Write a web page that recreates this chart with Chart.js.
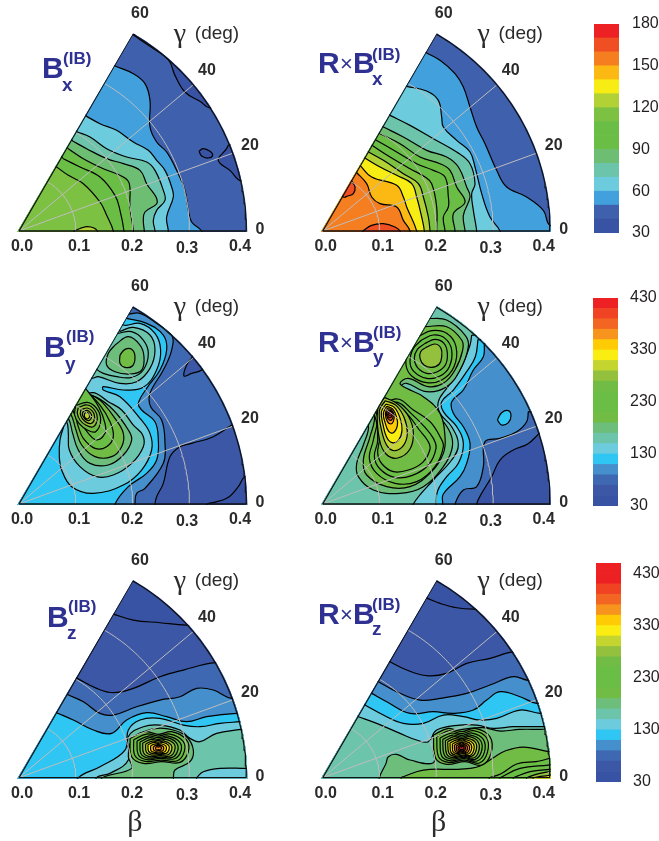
<!DOCTYPE html>
<html><head><meta charset="utf-8">
<script src="https://cdn.jsdelivr.net/npm/chart.js@4/dist/chart.umd.js"></script>
<style>html,body{margin:0;padding:0;background:#fff;width:659px;height:841px;overflow:hidden}canvas{position:absolute;display:block}</style>
</head><body>
<script>
// ---- axis ticks ----
const betaTicks = [0.0, 0.1, 0.2, 0.3, 0.4];
const gammaTicks = [0, 20, 40, 60];
const bxBarTicks = [30, 60, 90, 120, 150, 180];
const byBarTicks = [30, 130, 230, 330, 430];
const bzBarTicks = [30, 130, 230, 330, 430];
// ---- colour bands: lower edge of each band, and its colour ----
const bxLevels = [30,40,50,60,70,80,90,100,110,120,130,140,150,160,170,180];
const bxColors = ['#3953A4','#3F60AD','#42A0DC','#6CCBDC','#6CC4AA','#6DBE73','#6ABD45','#6ABD45','#7DC142','#B2D135','#F7EC13','#FDB913','#F57E20','#F04E23','#ED2024'];
const byLevels = [30,50,70,90,110,130,150,170,190,210,230,250,270,290,310,330,350,370,390,410,430];
const byColors = ['#3953A4','#3C57A6','#3E68B1','#4590CC','#2FC6F4','#6CCBDC','#6CC4AA','#6EBE7B','#70BC45','#6ABD45','#6ABD45','#70BC45','#94C13D','#C4D52F','#F9ED12','#FFCB05','#F7941D','#F36523','#F04323','#ED2024'];
const bzLevels = [30,50,70,90,110,130,150,170,190,210,230,250,270,290,310,330,350,370,390,410,430,450];
const bzColors = ['#3953A4','#3C57A6','#3E68B1','#4590CC','#2FC6F4','#6CCBDC','#6CC4AA','#6EBE7B','#70BC45','#6ABD45','#6ABD45','#70BC45','#94C13D','#C4D52F','#F9ED12','#FFCB05','#F7941D','#F36523','#F04323','#ED2024','#ED2024'];
// ---- iso-level contours: [level, closure, x,y pairs]
// x = beta cos(gamma), y = beta sin(gamma), in digitising units of 1/1705 beta.
const bxContours = [
 [40,'O',[-50,-30,740,-30,740,740,-50,740]],
 [30,'O',[343,588,393,554,448,514,468,467,498,417,543,389,578,370,720,450,450,650]],
 [30,'O',[628,257,623,247,598,212,633,182,668,150,720,180,690,280]],
 [30,'O',[540,240,553,247,573,239,581,227,568,219,548,225]],
 [50,'L',[288,495,343,472,378,442,393,392,393,312,413,267,443,237,473,182,498,122,508,62,518,27,548,0]],
 [60,'L',[203,344,243,322,293,302,343,267,388,242,413,212,438,182,458,132,463,102,443,42,448,0]],
 [70,'L',[175,297,213,282,263,247,323,222,383,207,408,182,433,122,438,92,413,62,403,32,408,0]],
 [80,'L',[161,270,203,247,263,217,313,202,363,182,383,142,415,87,378,57,373,32,376,0]],
 [90,'L',[148,247,193,217,253,187,313,162,331,142,333,72,343,0]],
 [100,'L',[133,217,183,192,243,162,288,107,303,62,315,0]],
 [110,'L',[113,192,148,167,193,142,243,87,263,47,283,0]],
 [120,'O',[165,0,190,10,205,13,225,9,235,0,235,-10,165,-10]],
];
const rbxContours = [
 [40,'O',[-50,-30,740,-30,740,740,-50,740]],
 [50,'L',[312,534,352,512,397,472,422,432,442,372,462,312,487,262,522,182,552,132,612,102,662,62,682,17]],
 [60,'L',[252,434,312,420,347,392,357,342,362,312,402,272,442,237,457,192,477,112,502,42,532,0]],
 [70,'L',[202,347,262,317,332,277,402,237,442,202,457,142,447,112,452,62,462,0]],
 [80,'L',[182,312,242,282,312,242,372,222,407,192,432,132,442,102,422,47,427,0]],
 [90,'L',[172,292,232,262,292,222,352,202,382,182,402,132,427,87,392,52,397,0]],
 [100,'L',[158,274,222,237,282,202,332,182,367,162,377,102,377,72,362,42,367,0]],
 [110,'L',[148,257,202,222,262,187,307,162,327,142,342,72,342,0]],
 [120,'L',[137,237,182,212,242,172,287,142,302,102,317,42,322,0]],
 [130,'L',[125,220,172,192,222,167,267,142,282,102,297,42,305,0]],
 [140,'L',[112,197,147,162,222,137,242,102,252,72,282,0]],
 [150,'L',[100,177,132,142,147,102,172,82,222,72,242,32,262,0]],
 [160,'O',[87,150,97,132,92,112,75,105,62,102,40,130,70,160]],
 [160,'O',[120,0,147,17,182,22,217,12,232,0,232,-15,120,-15]],
];
const byContours = [
 [50,'O',[-50,-30,740,-30,740,740,-50,740]],
 [30,'O',[563,0,623,17,658,52,678,82,720,82,720,-30,563,-30]],
 [70,'R',[638,237,583,202,518,182,483,172,453,142,433,62,413,22,408,0]],
 [50,'O',[518,437,503,417,495,384,518,392,548,402,620,470,540,480]],
 [90,'L',[330,570,363,572,413,542,458,507,458,462,433,402,393,332,395,292,428,252,438,182,433,122,378,47,353,32,348,0]],
 [110,'L',[323,557,383,542,433,507,443,462,423,402,383,347,358,302,368,282,408,247,418,192,413,132,383,92,328,52,288,0]],
 [130,'E',[134,232,123,192,121,142,128,102,158,52,223,32,313,57,368,102,398,162,393,212,363,257,303,322,253,342,253,352,313,342,373,350,413,402,425,462,408,512,363,542,313,537]],
 [150,'E',[303,518,343,530,393,507,408,462,393,407,353,367,303,362,238,382,218,378]],
 [150,'E',[296,512,338,517,373,492,388,452,373,402,338,380,293,382,253,392,233,404]],
 [170,'O',[288,477,328,502,363,477,375,442,368,402,333,390,288,397,263,417,268,452]],
 [190,'O',[303,447,318,464,338,464,348,442,340,414,318,410,303,422]],
 [150,'E',[183,322,223,334,268,307,308,282,343,237,371,207,373,172,338,122,283,87,233,82,183,112,151,162,148,212,143,247]],
 [170,'E',[190,330,233,320,283,282,328,222,338,192,313,147,268,117,213,122,178,162,161,212,148,257]],
 [190,'E',[195,337,230,320,253,302,288,257,313,212,308,172,278,142,228,142,188,177,171,222,155,270]],
 [210,'E',[198,343,243,297,273,247,283,202,263,172,228,167,193,197,178,232,163,277]],
 [230,'E',[205,340,239,292,258,242,258,212,233,192,208,212,188,242,171,287]],
 [250,'O',[170,295,205,305,233,287,245,252,230,217,205,222,180,242,167,267]],
 [270,'O',[178,289,205,297,227,282,235,257,223,232,200,237,183,252,175,272]],
 [270,'O',[186,283,205,288,221,278,227,260,218,242,202,245,190,256,184,270]],
 [270,'O',[192,277,205,281,215,273,218,262,212,251,202,252,195,259,190,268]],
 [290,'O',[197,272,205,275,211,268,211,260,205,255,199,258,196,265]],
];
const rbyContours = [
 [30,'O',[-50,-30,740,-30,740,740,-50,740]],
 [70,'R',[650,212,615,180,572,162,532,132,507,82,477,32,462,0]],
 [90,'R',[617,277,612,247,582,217,532,197,487,187,482,112,462,52,422,42,397,0]],
 [110,'R',[485,482,482,442,452,402,422,342,387,307,392,272,422,232,442,182,432,122,412,82,362,30,360,0]],
 [110,'O',[524,252,537,274,557,280,565,264,557,244,537,237]],
 [130,'R',[466,494,458,442,432,397,392,342,357,307,362,277,402,232,422,182,407,122,372,82,345,40,340,0]],
 [150,'R',[447,507,442,477,412,402,372,347,347,307,352,272,387,232,407,177,387,132,332,72,272,0]],
 [170,'E',[320,557,372,552,427,507,437,472,412,402,372,352,312,337,252,362,235,352,262,327,312,297,362,247,387,202,387,162,362,112,302,52,232,32,152,42,107,82,102,122,122,177,137,237]],
 [190,'E',[307,532,372,532,417,492,420,462,397,402,362,362,317,352,257,377,232,362,252,347,302,322,352,272,367,202,362,152,327,97,262,52,192,52,132,87,122,132,142,202,155,267]],
 [210,'O',[287,502,327,520,372,512,400,472,394,412,357,372,312,364,267,384,250,417,257,462]],
 [230,'O',[297,492,332,507,367,497,387,462,380,412,352,384,312,377,274,397,262,427,272,467]],
 [250,'O',[307,482,337,494,364,482,374,452,368,417,344,397,312,392,284,410,275,437,284,464]],
 [270,'O',[310,470,337,480,355,467,357,442,350,420,327,410,304,417,292,437,294,457]],
 [210,'E',[170,295,225,315,272,282,322,247,352,202,362,172,337,112,282,67,217,62,162,92,140,137,152,192,165,275]],
 [230,'E',[172,298,225,305,265,272,305,232,332,197,340,167,317,117,267,85,215,80,172,105,155,142,165,192,155,268]],
 [250,'E',[180,310,222,297,258,265,290,222,315,190,322,165,300,125,257,102,212,97,178,120,165,152,170,195,160,277]],
 [270,'O',[185,320,225,300,258,262,272,215,262,165,225,138,190,150,170,195,165,285]],
 [290,'O',[188,310,220,296,244,260,254,215,244,178,218,160,195,172,178,215,170,280]],
 [310,'O',[190,300,215,290,232,258,238,222,228,192,208,184,192,200,181,238,176,276]],
 [330,'O',[192,293,210,285,222,260,224,235,212,214,198,218,187,245,182,272]],
 [350,'O',[193,286,205,284,214,268,212,248,204,240,194,248,188,270]],
 [370,'O',[196,282,206,280,212,268,208,254,200,252,193,262,192,274]],
 [390,'O',[198,278,206,277,209,268,205,260,198,260,195,268]],
 [410,'O',[200,274,205,273,206,268,202,264,198,268]],
];
const bzContours = [
 [30,'O',[-50,-30,740,-30,740,740,-50,740]],
 [50,'L',[283,491,343,473,423,465,503,458]],
 [70,'L',[175,298,233,268,283,255,343,268,423,303,493,323,590,345]],
 [90,'L',[148,248,193,228,243,193,283,188,353,213,423,233,483,243,533,268,583,263,638,238]],
 [110,'L',[113,195,163,173,223,143,278,133,323,173,383,195,443,183,503,168,563,183,653,193]],
 [130,'B',[663,168,603,163,543,153,493,158,423,178,363,173,328,143,318,83,243,33,178,0]],
 [150,'B',[665,145,593,133,543,108,513,118,483,143,423,158,373,153,328,123,328,53,273,13,233,0]],
 [130,'O',[533,0,553,18,603,28,680,28,720,28,720,-20,533,-20]],
 [170,'O',[463,0,468,23,513,48,523,83,503,123,463,143,413,148,363,133,338,113,328,63,338,28,250,0,250,-20,463,-20]],
 [190,'O',[333,118,378,138,418,130,458,138,503,113,508,78,483,46,428,48,373,43,338,63]],
 [210,'O',[344,114,383,131,418,125,453,131,492,110,496,79,475,51,427,53,379,49,348,66]],
 [230,'O',[354,110,388,125,418,120,448,125,482,107,486,80,467,57,425,58,384,54,358,69]],
 [250,'O',[363,107,392,120,418,115,444,120,473,104,476,81,460,61,424,62,389,59,366,72]],
 [270,'O',[371,104,396,115,418,111,440,115,465,102,467,82,454,65,423,66,393,63,374,74]],
 [290,'O',[380,101,400,110,418,107,436,110,456,99,458,83,447,69,422,70,398,68,382,77]],
 [310,'O',[387,99,404,106,418,103,432,106,449,97,450,84,441,73,421,74,402,72,389,79]],
 [330,'O',[395,96,407,101,418,100,429,101,441,95,442,85,436,77,421,77,406,76,396,81]],
 [350,'O',[403,93,411,97,418,96,425,97,433,93,434,86,430,80,420,81,410,80,404,83]],
 [350,'O',[410,91,414,93,418,92,422,93,427,91,427,87,424,84,419,84,414,83,410,86]],
];
const rbzContours = [
 [30,'O',[-50,-30,740,-30,740,740,-50,740]],
 [50,'L',[314,538,352,523,402,510,454,506]],
 [70,'L',[202,348,252,323,312,306,372,313,432,343,502,358,575,378]],
 [90,'L',[167,288,222,258,292,233,352,238,432,253,502,278,572,303,617,292]],
 [110,'L',[147,253,192,228,262,193,332,198,392,193,452,203,492,233,532,258,592,243,642,223]],
 [130,'L',[127,218,182,188,242,163,302,163,362,188,422,183,472,173,522,178,592,203,652,193]],
 [150,'L',[107,183,162,163,232,133,282,113,317,108,342,143,412,158,462,158,512,148,572,153,660,153]],
 [170,'B',[655,145,590,145,535,140,480,150,420,145,345,125,332,90,332,45,262,53,222,70,197,63,190,43,170,0]],
 [190,'B',[678,78,602,92,547,80,512,60,472,35,442,28,402,25,302,23,242,3,236,0]],
 [210,'O',[500,0,535,12,582,41,640,48,720,58,720,-20,500,-20]],
 [230,'O',[532,0,592,28,677,38,720,42,720,-20,532,-20]],
 [250,'O',[572,0,622,18,680,25,720,27,720,-20,572,-20]],
 [270,'O',[612,0,652,13,720,18,720,-20,612,-20]],
 [310,'O',[632,0,662,5,720,8,720,-20,632,-20]],
 [190,'O',[332,128,377,148,417,138,457,148,502,123,505,73,477,38,427,48,372,40,339,58]],
 [210,'O',[342,123,382,141,417,132,452,141,492,119,494,75,470,44,426,53,377,46,348,62]],
 [230,'O',[352,119,386,134,417,127,448,134,482,115,485,76,463,50,425,57,382,51,357,65]],
 [250,'O',[360,115,390,128,417,122,444,128,474,111,476,78,457,55,424,61,387,56,365,68]],
 [270,'O',[368,111,394,123,417,117,440,123,466,108,468,79,452,59,423,65,391,60,372,71]],
 [290,'O',[375,108,397,117,417,113,437,117,459,105,460,81,446,64,422,68,395,64,379,73]],
 [310,'O',[382,104,401,113,417,110,433,113,452,102,453,82,442,67,421,72,399,68,385,76]],
 [330,'O',[389,101,404,108,417,105,430,108,445,100,446,83,437,71,420,75,402,72,391,78]],
 [350,'O',[395,98,407,104,417,101,427,104,439,97,440,84,433,75,420,78,405,76,397,80]],
 [370,'O',[401,96,409,99,417,98,425,99,433,95,434,85,428,78,419,80,408,79,402,82]],
 [390,'O',[406,93,412,96,417,95,422,96,428,93,428,86,425,82,418,83,411,82,407,84]],
 [410,'O',[410,91,414,93,417,92,420,93,424,91,424,87,422,85,418,85,413,85,411,86]],
];

const UNITS_PER_BETA = 1705;
const PX_PER_BETA = 568.25;
const TITLE_BLUE = '#2e3192', TEXT = '#2b2b2b';
const SANS = '"Liberation Sans", Arial, sans-serif', SERIF = '"Liberation Serif", serif';
const betaLabelOff = [[3,16],[60,16],[113,16],[168,18],[221,16]];
const gammaLabelOff = [[241,1],[231,85],[188,160],[121,217]];

function closePath(type, f){
  const p=[]; for(let i=0;i<f.length;i+=2)p.push([f[i],f[i+1]]);
  const s=p[0], e=p[p.length-1];
  if(type==='L'){ if(e[1]<=5){p.push([e[0],-30]);} else {p.push([740,e[1]],[740,-30]);} p.push([-50,-30],[s[0]-40,s[1]+40]); }
  if(type==='R'){ p.push([e[0],-30],[-50,-30],[300,600],[700,600],[730,s[1]]); }
  if(type==='B'){ p.push([e[0],-30],[740,-30],[740,s[1]]); }
  if(type==='E'){ p.push([e[0]-30,e[1]+30],[s[0]-30,s[1]+30]); }
  p.push(s);
  return p.map(q=>({x:q[0]/UNITS_PER_BETA,y:q[1]/UNITS_PER_BETA}));
}
const rad=d=>d*Math.PI/180;
function polar(b,g){return {x:b*Math.cos(rad(g)),y:b*Math.sin(rad(g))};}
function arcPts(b){const a=[];for(let g=0;g<=60;g++)a.push(polar(b,g));return a;}

function wedgePlugin(){return{
  id:'wedgeClip',
  beforeDatasetsDraw(c){const x=c.scales.x,y=c.scales.y,ox=x.getPixelForValue(0),oy=y.getPixelForValue(0),R=x.getPixelForValue(0.4)-ox+1,ctx=c.ctx;
    ctx.save();ctx.beginPath();ctx.moveTo(ox-1.7,oy+1);ctx.lineTo(ox+R,oy+1);ctx.arc(ox,oy,R,0,-Math.PI/3,true);ctx.closePath();ctx.clip();},
  afterDatasetsDraw(c){c.ctx.restore();}
};}
function textPlugin(p){return{
  id:'labels',
  afterDraw(c){const x=c.scales.x,y=c.scales.y,ox=x.getPixelForValue(0),oy=y.getPixelForValue(0),ctx=c.ctx;
    ctx.save();ctx.textBaseline='middle';ctx.textAlign='center';ctx.fillStyle=TEXT;ctx.font='bold 16px '+SANS;
    betaTicks.forEach((b,i)=>ctx.fillText(b.toFixed(1),ox+betaLabelOff[i][0],oy+betaLabelOff[i][1]));
    gammaTicks.forEach((g,i)=>ctx.fillText(String(g),ox+gammaLabelOff[i][0],oy-gammaLabelOff[i][1]));
    ctx.font='28px '+SERIF;ctx.fillText('\u03B3',ox+161,oy-196);
    ctx.font='19px '+SANS;ctx.fillText('(deg)',ox+198,oy-197);
    if(p.beta){ctx.font='30px '+SERIF;ctx.fillText('\u03B2',ox+116,oy+45);}
    ctx.textBaseline='alphabetic';ctx.textAlign='left';ctx.fillStyle=TITLE_BLUE;
    const T=p.title,L=p.left,t=p.top;
    ctx.font='bold 30px '+SANS;
    if(T.r!==undefined){ctx.fillText('R',T.r-L,T.base-t);ctx.font='22px '+SANS;ctx.fillText('\u00D7',T.r+22-L,T.base-2-t);ctx.font='bold 30px '+SANS;}
    ctx.fillText('B',T.b-L,T.base-t);
    ctx.font='bold 17px '+SANS;ctx.fillText('(IB)',T.ib-L,T.ibBase-t);
    ctx.font='bold 19px '+SANS;ctx.fillText(p.sub,T.sub-L,T.subBase-t);
    ctx.restore();}
};}

const panels=[
 {contours:bxContours, levels:bxLevels, colors:bxColors, left:0,  top:0,  w:300,h:265,ox:19,   oy:231, sub:'x',title:{b:42, base:78, ib:63, ibBase:64, sub:62, subBase:91}},
 {contours:rbxContours,levels:bxLevels, colors:bxColors, left:303,top:0,  w:290,h:265,ox:322.7,oy:231, sub:'x',title:{r:318,b:353,base:73, ib:372,ibBase:60, sub:372,subBase:85}},
 {contours:byContours, levels:byLevels, colors:byColors, left:0,  top:270,w:300,h:265,ox:19,   oy:504, sub:'y',title:{b:44, base:357,ib:66, ibBase:342,sub:65, subBase:370}},
 {contours:rbyContours,levels:byLevels, colors:byColors, left:303,top:270,w:290,h:265,ox:322.7,oy:504, sub:'y',title:{r:318,b:353,base:352,ib:373,ibBase:338,sub:373,subBase:363}},
 {contours:bzContours, levels:bzLevels, colors:bzColors, left:0,  top:545,w:300,h:296,ox:19,   oy:777.7,sub:'z',beta:true,title:{b:47, base:627,ib:68, ibBase:612,sub:67, subBase:639}},
 {contours:rbzContours,levels:bzLevels, colors:bzColors, left:303,top:545,w:290,h:296,ox:322.7,oy:777.7,sub:'z',beta:true,title:{r:318,b:353,base:624,ib:372,ibBase:610,sub:372,subBase:635}},
];
Chart.defaults.animation=false;
function mk(left,top,w,h){const c=document.createElement('canvas');c.width=w;c.height=h;c.style.left=left+'px';c.style.top=top+'px';c.style.width=w+'px';c.style.height=h+'px';document.body.appendChild(c);return c;}

panels.forEach(p=>{
  const ds=[];
  p.contours.forEach(s=>{
    ds.push({label:'level '+s[0],data:closePath(s[1],s[2]),showLine:true,pointRadius:0,borderWidth:1.2,borderColor:'#000',
      backgroundColor:p.colors[p.levels.indexOf(s[0])],fill:'shape',tension:0.4,capBezierPoints:false});
  });
  [0.1,0.2,0.3].forEach(b=>ds.push({label:'beta '+b,data:arcPts(b),showLine:true,pointRadius:0,borderWidth:1,borderColor:'#bdbdbd',fill:false,tension:0}));
  [20,40].forEach(g=>ds.push({label:'gamma '+g,data:[polar(0,g),polar(0.4,g)],showLine:true,pointRadius:0,borderWidth:1,borderColor:'#bdbdbd',fill:false,tension:0}));
  ds.push({label:'frame',data:[polar(0,0),...arcPts(0.4),polar(0,0)],showLine:true,pointRadius:0,borderWidth:1.3,borderColor:'#111',fill:false,tension:0});
  ds.forEach((d,i)=>{d.order=ds.length-i;});
  const ox=p.ox-p.left, oy=p.oy-p.top;
  new Chart(mk(p.left,p.top,p.w,p.h),{type:'scatter',data:{datasets:ds},
    options:{responsive:false,animation:false,events:[],layout:{padding:0},
      plugins:{legend:{display:false},tooltip:{enabled:false},title:{display:false}},
      scales:{x:{type:'linear',display:false,min:-ox/PX_PER_BETA,max:(p.w-ox)/PX_PER_BETA},
              y:{type:'linear',display:false,min:-(p.h-oy)/PX_PER_BETA,max:oy/PX_PER_BETA}}},
    plugins:[wedgePlugin(),textPlugin(p)]});
});

const bars=[
 {levels:bxLevels,colors:bxColors,ticks:bxBarTicks,left:594,top:14,h:229,pad:10,tp:13},
 {levels:byLevels,colors:byColors,ticks:byBarTicks,left:593,top:288,h:228,pad:10,tp:12},
 {levels:bzLevels,colors:bzColors,ticks:bzBarTicks,left:596,top:553,h:239,pad:10,tp:12},
];
bars.forEach(b=>{
  const ds=b.colors.map((c,i)=>({label:String(b.levels[i]),data:[[b.levels[i],b.levels[i+1]]],backgroundColor:c,borderWidth:0,barPercentage:1,categoryPercentage:1,grouped:false}));
  const w=659-b.left;
  new Chart(mk(b.left,b.top,w,b.h),{type:'bar',data:{labels:['scale'],datasets:ds},
    options:{responsive:false,animation:false,events:[],layout:{padding:{top:b.pad,bottom:b.pad,left:0,right:0}},
      plugins:{legend:{display:false},tooltip:{enabled:false}},
      scales:{x:{display:false},
        y:{position:'right',min:b.levels[0],max:b.levels[b.levels.length-1],
           afterBuildTicks:a=>{a.ticks=b.ticks.map(v=>({value:v}));},
           afterFit:a=>{a.width=w-25;a.paddingTop=0;a.paddingBottom=0;},
           grid:{display:false,drawTicks:false},border:{display:false},
           ticks:{color:'#231f20',font:{family:SANS,size:16},padding:b.tp,autoSkip:false,maxRotation:0,callback:v=>String(v)}}}}});
});
</script>
</body></html>
